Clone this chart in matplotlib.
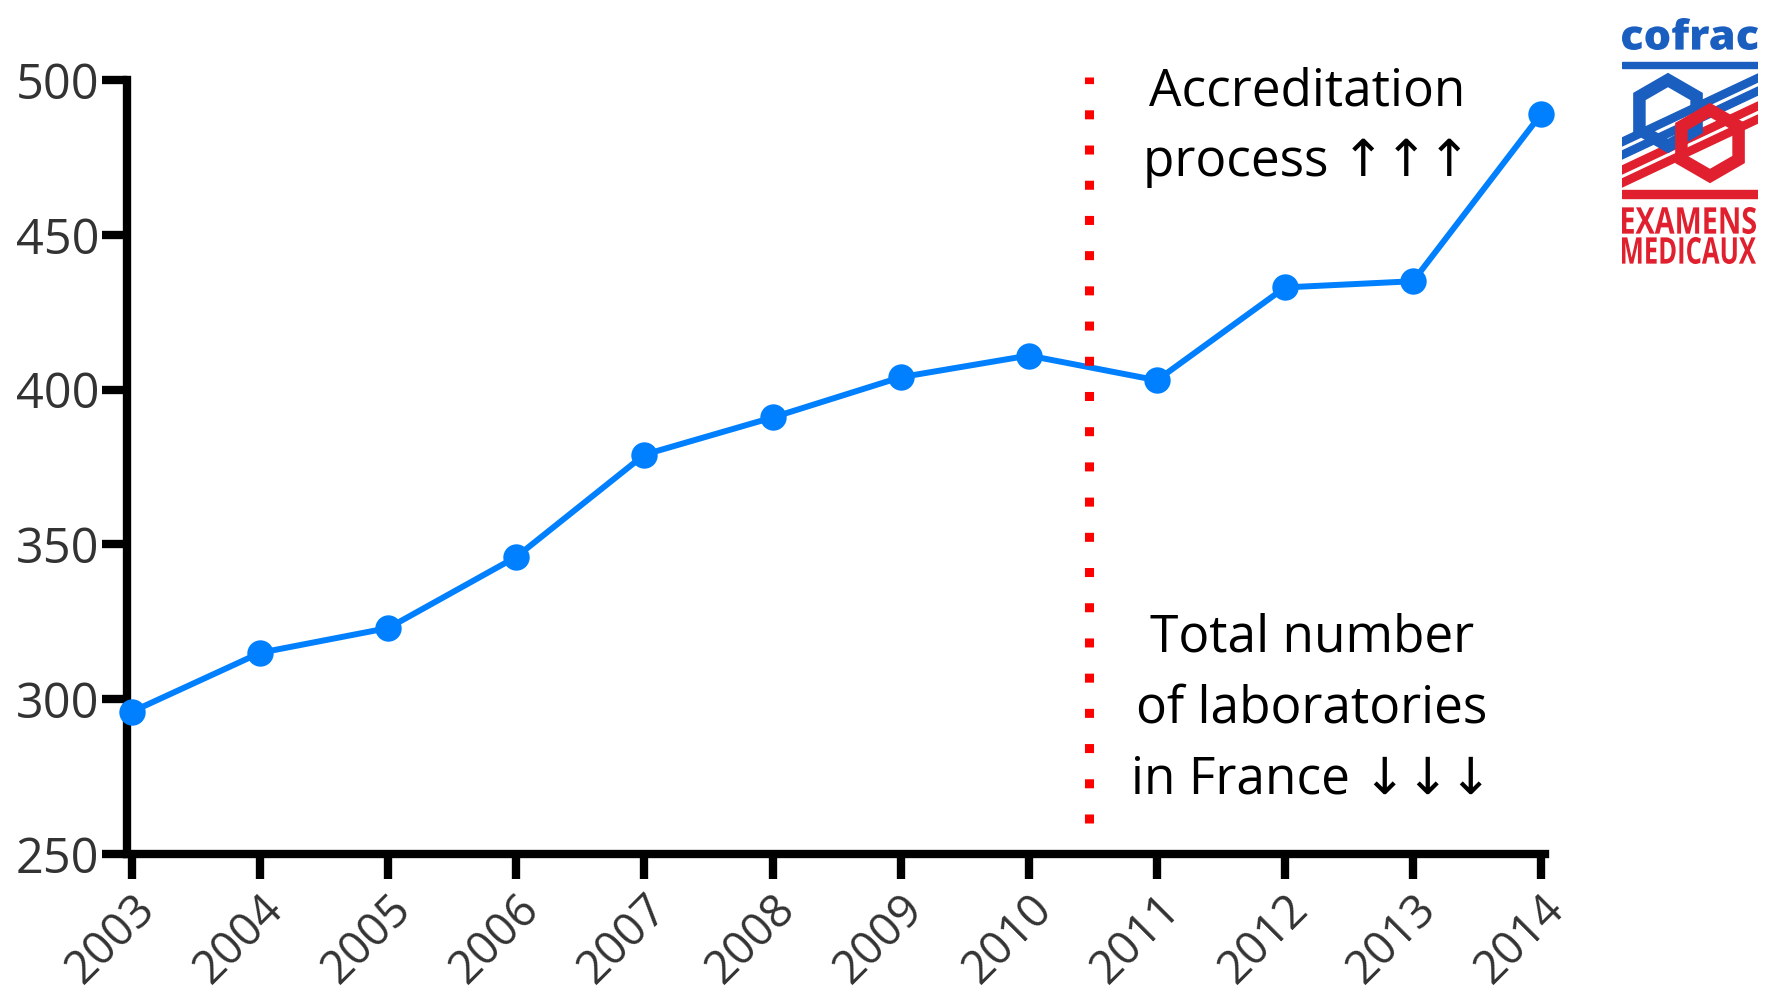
import matplotlib.pyplot as plt
from matplotlib.font_manager import FontProperties
from matplotlib.patches import PathPatch, Polygon, RegularPolygon
from matplotlib.textpath import TextPath
from matplotlib.transforms import Affine2D

years = [2003, 2004, 2005, 2006, 2007, 2008, 2009, 2010, 2011, 2012, 2013, 2014]
n_labs = [296, 315, 323, 346, 379, 391, 404, 411, 403, 433, 435, 489]
yticks = [250, 300, 350, 400, 450, 500]
split_year = 2010.47

BLUE = "#0080FF"
FONT = ["Open Sans", "DejaVu Sans"]
LOGO_BLUE = "#1a5fc0"
LOGO_RED = "#e0202e"


def fit_text(ax, s, x0, y0, x1, y1, color, weight="bold"):
    # squeeze a word into a box (y axis of the logo runs downward)
    path = TextPath((0, 0), s, size=1, prop=FontProperties(family="Open Sans", weight=weight))
    ext = path.get_extents()
    tr = (Affine2D().translate(-ext.x0, -ext.y0)
          .scale((x1 - x0) / ext.width, -(y1 - y0) / ext.height)
          .translate(x0, y1))
    ax.add_patch(PathPatch(tr.transform_path(path), color=color, lw=0))


def draw_logo(fig):
    lax = fig.add_axes([1622 / 1774, 1 - 270 / 1000, 136 / 1774, 262 / 1000])
    lax.set_xlim(0, 136)
    lax.set_ylim(262, 0)
    lax.axis("off")
    fit_text(lax, "cofrac", 0, 10, 136, 42, LOGO_BLUE, weight="heavy")
    lax.add_patch(Polygon([[0, 54], [136, 54], [136, 60], [0, 60]], color=LOGO_BLUE))
    lax.add_patch(Polygon([[0, 182], [136, 182], [136, 190], [0, 190]], color=LOGO_RED))
    # diagonal stripes
    lax.add_patch(Polygon([[0, 130], [136, 66], [136, 74], [0, 138]], color=LOGO_BLUE))
    lax.add_patch(Polygon([[0, 143], [136, 79], [136, 87], [0, 151]], color=LOGO_BLUE))
    lax.add_patch(Polygon([[0, 158], [136, 94], [136, 102], [0, 166]], color=LOGO_RED))
    lax.add_patch(Polygon([[0, 171], [136, 107], [136, 115], [0, 179]], color=LOGO_RED))
    lax.add_patch(RegularPolygon((46, 105), 6, radius=33, fill=False,
                                 edgecolor=LOGO_BLUE, lw=9))
    lax.add_patch(RegularPolygon((88, 135), 6, radius=33, fill=False,
                                 edgecolor=LOGO_RED, lw=9))
    fit_text(lax, "EXAMENS", 0, 199, 134, 226, LOGO_RED)
    fit_text(lax, "MEDICAUX", 0, 229, 134, 256, LOGO_RED)


def main():
    fig = plt.figure(figsize=(17.74, 10), dpi=100)
    ax = fig.add_axes([127 / 1774, 1 - 854 / 1000, 1418 / 1774, 774 / 1000])

    ax.plot(years, n_labs, color=BLUE, lw=4.3, marker="o", ms=19,
            markeredgewidth=0, zorder=3, clip_on=False)
    ax.plot([split_year, split_year], [260, 501], color="#FF0000", lw=6.5,
            linestyle=(0, (1, 2.9)), dash_capstyle="butt", zorder=4,
            clip_on=False)

    ax.set_xlim(2002.96, 2014.03)
    ax.set_ylim(250, 500)
    ax.set_xticks(years)
    ax.set_xticklabels([str(y) for y in years], rotation=45, ha="right",
                       rotation_mode="anchor", fontsize=33, color="#333333",
                       family=FONT)
    ax.set_yticks(yticks)
    ax.set_yticklabels([str(v) for v in yticks], fontsize=35, color="#333333",
                       family=FONT)
    ax.tick_params(axis="both", length=18, width=6, color="black", pad=2)
    ax.tick_params(axis="x", pad=5)
    for spine in ("top", "right"):
        ax.spines[spine].set_visible(False)
    for spine in ("left", "bottom"):
        ax.spines[spine].set_linewidth(6)

    fig.text(1307 / 1774, 1 - 127 / 1000, "Accreditation\nprocess \u2191\u2191\u2191",
             ha="center", va="center", fontsize=37, linespacing=1.5,
             family=FONT)
    fig.text(1312 / 1774, 1 - 709 / 1000,
             "Total number\nof laboratories\nin France \u2193\u2193\u2193",
             ha="center", va="center", fontsize=37, linespacing=1.5,
             family=FONT)

    draw_logo(fig)
    fig.savefig("out.png", dpi=100)


if __name__ == "__main__":
    main()
